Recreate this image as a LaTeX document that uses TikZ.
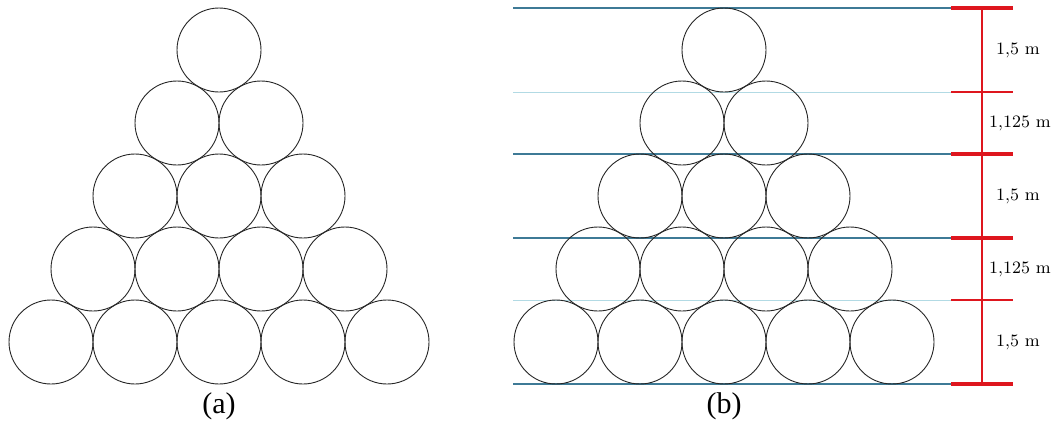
\documentclass[tikz,border=0pt]{standalone}
\usepackage{fontspec}
\newfontfamily\capfont{Liberation Serif}
\usetikzlibrary{positioning,calc}
\definecolor{leveldark}{RGB}{62,122,150}
\definecolor{levellight}{RGB}{178,218,228}
\definecolor{dimred}{RGB}{222,22,30}
\tikzset{
    ball/.style={draw=black!85,line width=0.45pt},
    level line/.style={leveldark,line width=0.6pt},
    level faint/.style={levellight,line width=0.5pt},
    dim line/.style={dimred,line width=1.1pt},
    dim tick/.style={dimred,line width=1.6pt},
    dim tick thin/.style={dimred,line width=1.1pt},
    dim label/.style={font=\fontsize{8.7}{10}\selectfont,inner sep=1pt},
    caption/.style={font=\capfont\fontsize{15}{18}\selectfont},
}

\begin{document}
\begin{tikzpicture}[x=0.5pt,y=-0.5pt]
    \useasboundingbox (0,0) rectangle (1054,434);
    % (a) stacked pipes
    \foreach \r in {0,...,4}
        \foreach \i in {0,...,\r}
            \draw[ball] ({219-42*\r+84*\i},{50+73*\r}) circle[radius=42];
    \node[caption] (capa) at (219,406) {(a)};
    % (b) same stack with heights
    \foreach \y/\s in {8/level line,92/level faint,154/level line,238/level line,300/level faint,384/level line}
        \draw[\s] (513,\y) -- (952,\y);
    \foreach \r in {0,...,4}
        \foreach \i in {0,...,\r}
            \draw[ball] ({724-42*\r+84*\i},{50+73*\r}) circle[radius=42];
    \node[caption] (capb) at (724,406) {(b)};
    % dimension bar
    \foreach \n/\y in {0/8,1/92,2/154,3/238,4/300,5/384}
        \coordinate (t\n) at (982,\y);
    \draw[dim line] (t0) -- (t5);
    \foreach \n/\s in {0/dim tick,1/dim tick thin,2/dim tick,3/dim tick,4/dim tick thin,5/dim tick}
        \draw[\s] ([xshift=-15.5pt]t\n) -- ([xshift=15.5pt]t\n);
    \node[dim label] (h1) at ($(t0)!.5!(t1)+(36,0)$) {1,5 m};
    \node[dim label] (h2) at ($(t1)!.5!(t2)+(38,0)$) {1,125 m};
    \node[dim label] (h3) at ($(t2)!.5!(t3)+(36,0)$) {1,5 m};
    \node[dim label] (h4) at ($(t3)!.5!(t4)+(38,0)$) {1,125 m};
    \node[dim label] (h5) at ($(t4)!.5!(t5)+(36,0)$) {1,5 m};
\end{tikzpicture}
\end{document}
